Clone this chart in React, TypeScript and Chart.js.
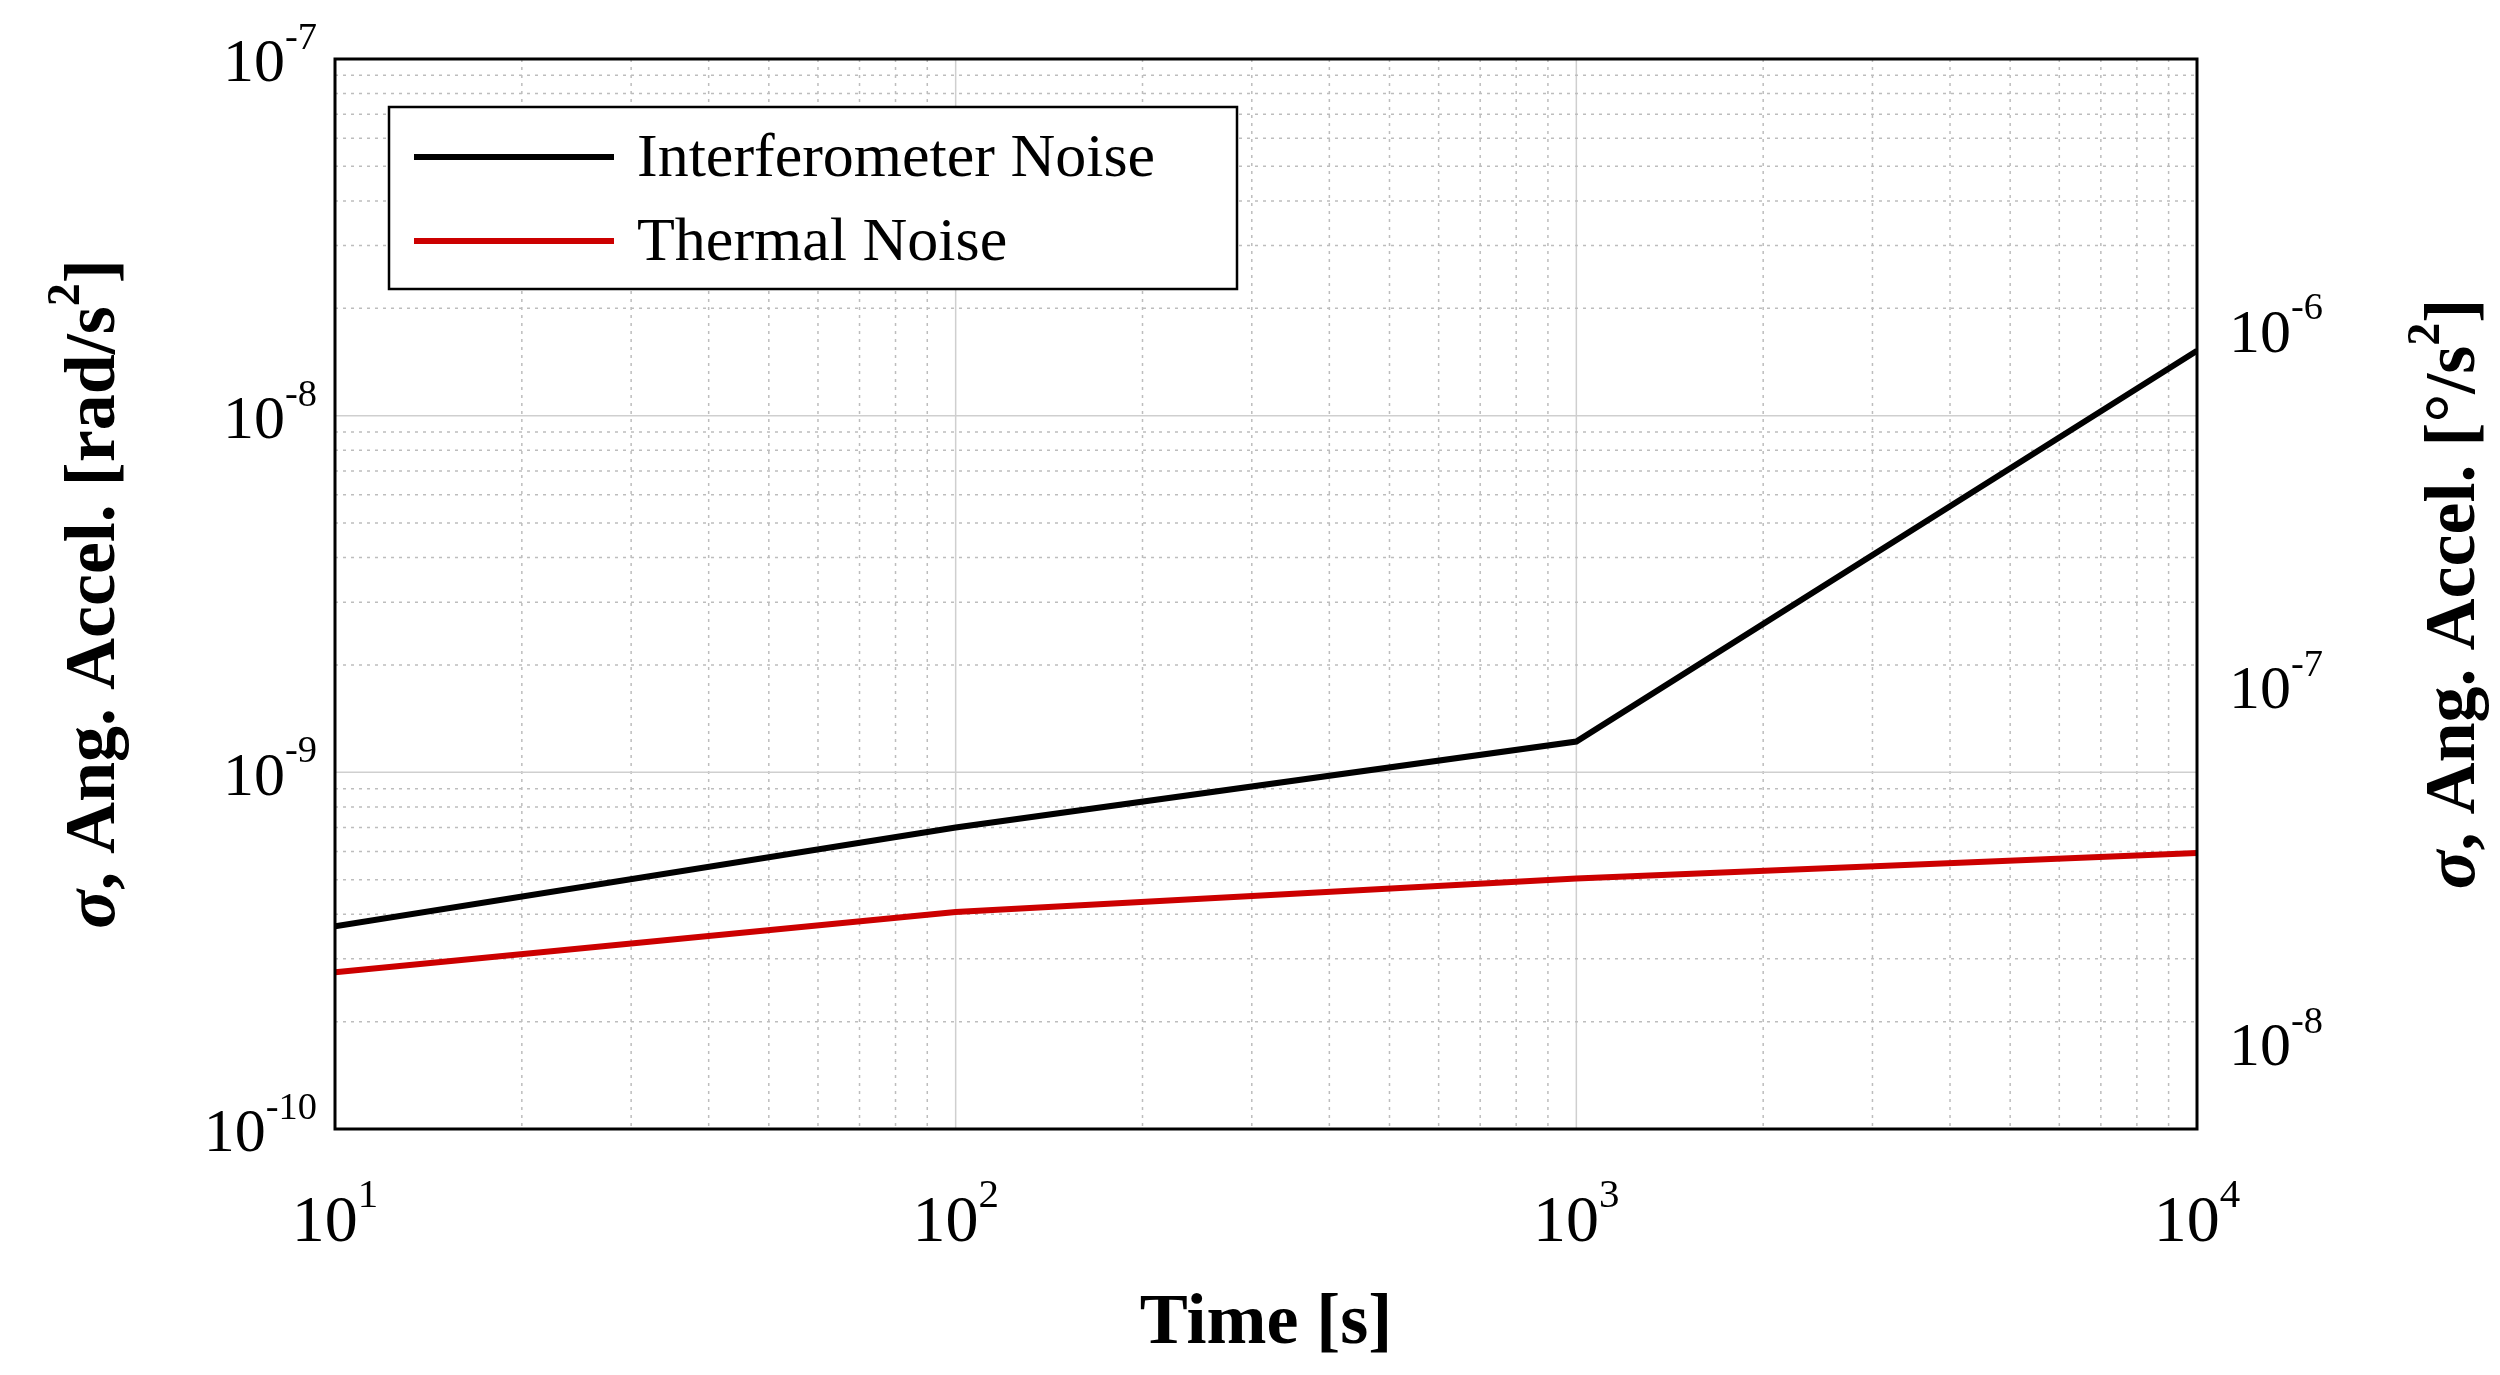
import React, { useEffect, useRef } from "react";
import { Chart, registerables } from "chart.js";
Chart.register(...registerables);

const times = [10, 100, 1000, 10000];
const interferometer = [3.7e-10, 7.0e-10, 1.22e-9, 1.52e-8];
const thermal = [2.75e-10, 4.06e-10, 5.04e-10, 5.94e-10];
const xTicks = [1, 2, 3, 4];
const yTicks = [-10, -9, -8, -7];
const y2Ticks = [-8, -7, -6];
const RAD2DEG = 180 / Math.PI;
const FONT = "'Liberation Serif', 'Times New Roman', serif";

function drawPow(ctx: CanvasRenderingContext2D, exp: number, x: number, y: number, align: string, size: number) {
  const base = "10";
  const sup = String(exp);
  ctx.font = `${size}px ${FONT}`;
  const bw = ctx.measureText(base).width;
  ctx.font = `${size * 0.62}px ${FONT}`;
  const sw = ctx.measureText(sup).width;
  const total = bw + sw;
  let x0 = x;
  if (align === "right") x0 = x - total;
  else if (align === "center") x0 = x - total / 2;
  ctx.textBaseline = "middle";
  ctx.textAlign = "left";
  ctx.font = `${size}px ${FONT}`;
  ctx.fillText(base, x0, y);
  ctx.font = `${size * 0.62}px ${FONT}`;
  ctx.fillText(sup, x0 + bw, y - size * 0.42);
}

const customPlugin = {
  id: "custom",
  beforeDatasetsDraw(chart: any) {
    const { ctx, chartArea: a, scales } = chart;
    ctx.save();
    ctx.lineWidth = 1.5;
    for (let d = 1; d <= 4; d++) {
      for (let m = 1; m <= 9; m++) {
        if (d === 4 && m > 1) continue;
        const v = m * Math.pow(10, d);
        const px = scales.x.getPixelForValue(v);
        ctx.beginPath();
        if (m === 1) { ctx.setLineDash([]); ctx.strokeStyle = "#cfcfcf"; }
        else { ctx.setLineDash([3, 5]); ctx.strokeStyle = "#bdbdbd"; }
        ctx.moveTo(px, a.top); ctx.lineTo(px, a.bottom); ctx.stroke();
      }
    }
    for (let d = -10; d <= -7; d++) {
      for (let m = 1; m <= 9; m++) {
        if (d === -7 && m > 1) continue;
        const v = m * Math.pow(10, d);
        const py = scales.y.getPixelForValue(v);
        ctx.beginPath();
        if (m === 1) { ctx.setLineDash([]); ctx.strokeStyle = "#cfcfcf"; }
        else { ctx.setLineDash([3, 5]); ctx.strokeStyle = "#bdbdbd"; }
        ctx.moveTo(a.left, py); ctx.lineTo(a.right, py); ctx.stroke();
      }
    }
    ctx.restore();
  },
  afterDraw(chart: any) {
    const { ctx, chartArea: a, scales } = chart;
    ctx.save();
    ctx.setLineDash([]);
    ctx.strokeStyle = "#000";
    ctx.lineWidth = 3;
    ctx.strokeRect(a.left, a.top, a.right - a.left, a.bottom - a.top);
    ctx.fillStyle = "#000";
    xTicks.forEach((e) => drawPow(ctx, e, scales.x.getPixelForValue(Math.pow(10, e)), a.bottom + 95, "center", 66));
    yTicks.forEach((e) => drawPow(ctx, e, a.left - 18, scales.y.getPixelForValue(Math.pow(10, e)) + 6, "right", 62));
    y2Ticks.forEach((e) => drawPow(ctx, e, a.right + 32, scales.y2.getPixelForValue(Math.pow(10, e)) + 6, "left", 62));
    ctx.textAlign = "center";
    ctx.textBaseline = "middle";
    ctx.font = `bold 72px ${FONT}`;
    ctx.fillText("Time [s]", (a.left + a.right) / 2, a.bottom + 195);
    const vtitle = (x: number, unit: string) => {
      ctx.save();
      ctx.translate(x, (a.top + a.bottom) / 2);
      ctx.rotate(-Math.PI / 2);
      const s1 = "σ";
      const rest = ", Ang. Accel. [" + unit + "/s";
      ctx.font = `italic bold 72px ${FONT}`;
      const w1 = ctx.measureText(s1).width;
      ctx.font = `bold 72px ${FONT}`;
      const w2 = ctx.measureText(rest).width;
      ctx.font = `bold 46px ${FONT}`;
      const w3 = ctx.measureText("2").width;
      ctx.font = `bold 72px ${FONT}`;
      const w4 = ctx.measureText("]").width;
      let x0 = -(w1 + w2 + w3 + w4) / 2;
      ctx.textAlign = "left";
      ctx.font = `italic bold 72px ${FONT}`;
      ctx.fillText(s1, x0, 0); x0 += w1;
      ctx.font = `bold 72px ${FONT}`;
      ctx.fillText(rest, x0, 0); x0 += w2;
      ctx.font = `bold 46px ${FONT}`;
      ctx.fillText("2", x0, -28); x0 += w3;
      ctx.font = `bold 72px ${FONT}`;
      ctx.fillText("]", x0, 0);
      ctx.restore();
    };
    vtitle(95, "rad");
    vtitle(2455, "°");
    const lx = 389, ly = 107, lw = 848, lh = 182;
    ctx.fillStyle = "#fff";
    ctx.fillRect(lx, ly, lw, lh);
    ctx.lineWidth = 2.5;
    ctx.strokeStyle = "#000";
    ctx.strokeRect(lx, ly, lw, lh);
    chart.data.datasets.forEach((ds: any, i: number) => {
      const y = ly + 50 + i * 84;
      ctx.strokeStyle = ds.borderColor;
      ctx.lineWidth = 6;
      ctx.beginPath(); ctx.moveTo(lx + 25, y); ctx.lineTo(lx + 225, y); ctx.stroke();
      ctx.fillStyle = "#000";
      ctx.font = `62px ${FONT}`;
      ctx.textAlign = "left";
      ctx.textBaseline = "middle";
      ctx.fillText(ds.label, lx + 248, y + 3);
    });
    ctx.restore();
  },
};

export default function App() {
  const ref = useRef<HTMLCanvasElement>(null);
  useEffect(() => {
    const chart = new Chart(ref.current!, {
      type: "line",
      data: {
        datasets: [
          { label: "Interferometer Noise", data: times.map((t, i) => ({ x: t, y: interferometer[i] })), borderColor: "#000000", borderWidth: 6, pointRadius: 0, tension: 0 },
          { label: "Thermal Noise", data: times.map((t, i) => ({ x: t, y: thermal[i] })), borderColor: "#cc0000", borderWidth: 6, pointRadius: 0, tension: 0 },
        ],
      },
      options: {
        animation: false,
        responsive: false,
        layout: { padding: { top: 59 } },
        plugins: { legend: { display: false }, tooltip: { enabled: false } },
        scales: {
          x: { type: "logarithmic", min: 10, max: 10000, grid: { display: false }, border: { display: false }, ticks: { display: false }, afterFit: (s: any) => { s.height = 246; } },
          y: { type: "logarithmic", position: "left", min: 1e-10, max: 1e-7, grid: { display: false }, border: { display: false }, ticks: { display: false }, afterFit: (s: any) => { s.width = 335; } },
          y2: { type: "logarithmic", position: "right", display: true, min: 1e-10 * RAD2DEG, max: 1e-7 * RAD2DEG, grid: { display: false }, border: { display: false }, ticks: { display: false }, afterFit: (s: any) => { s.width = 303; } },
        },
      } as any,
      plugins: [customPlugin],
    });
    return () => chart.destroy();
  }, []);
  return (
    <div style={{ position: "fixed", left: 0, top: 0, width: 2500, height: 1375, background: "#fff" }}>
      <canvas ref={ref} width={2500} height={1375} style={{ width: 2500, height: 1375 }} />
    </div>
  );
}
